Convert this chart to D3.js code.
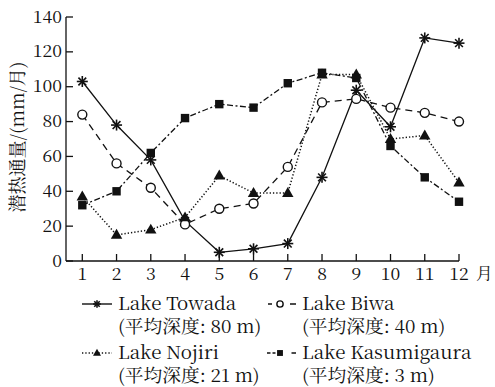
<!DOCTYPE html>
<html>
<head>
<meta charset="utf-8">
<script src="https://cdn.jsdelivr.net/npm/d3@7"></script>
<style>
  body { margin: 0; background: #fff; }
</style>
</head>
<body>
<svg id="chart"></svg>
<script>
const months = [1, 2, 3, 4, 5, 6, 7, 8, 9, 10, 11, 12];
const towada = [103, 78, 58, 23, 5, 7, 10, 48, 98, 77, 128, 125];
const biwa = [84, 56, 42, 21, 30, 33, 54, 91, 93, 88, 85, 80];
const nojiri = [37, 15, 18, 25, 49, 39, 39, 107, 107, 70, 72, 45];
const kasumigaura = [32, 40, 62, 82, 90, 88, 102, 108, 105, 66, 48, 34];
const yTicks = [0, 20, 40, 60, 80, 100, 120, 140];

const series = [
    {name: 'Lake Towada', depth: '(平均深度: 80 m)', values: towada, dash: null, marker: 'star',
     legendDash: null},
    {name: 'Lake Biwa', depth: '(平均深度: 40 m)', values: biwa, dash: '7,5', marker: 'circle',
     legendDash: '0,1,4,18,6'},
    {name: 'Lake Nojiri', depth: '(平均深度: 21 m)', values: nojiri, dash: '1.3,2', marker: 'triangle',
     legendDash: '1.3,2'},
    {name: 'Lake Kasumigaura', depth: '(平均深度: 3 m)', values: kasumigaura, dash: '6,2.5,2,2.5', marker: 'square',
     legendDash: '3.5,2,3,16,5'}
];

const FONT = '"Noto Serif CJK SC", "Liberation Serif"';

const width = 495, height = 387;
const svg = d3.select('#chart').attr('width', width).attr('height', height);

const xscale = d3.scaleLinear().domain([1, 12]).range([82.3, 459]);
const yscale = d3.scaleLinear().domain([0, 140]).range([261, 17]);
const x0 = 66;

// slightly stretched text helper
function label(g, x, y, str, size, anchor) {
    return g.append('text')
        .attr('transform', `translate(${x},${y}) scale(1.04,1)`)
        .attr('text-anchor', anchor || 'start')
        .style('font-family', FONT)
        .style('font-size', size + 'px')
        .attr('fill', '#111')
        .text(str);
}

// axes
const axes = svg.append('g').attr('stroke', '#111').attr('stroke-width', 1.3);
axes.append('line').attr('x1', x0).attr('x2', x0).attr('y1', yscale(140)).attr('y2', yscale(0));
axes.append('line').attr('x1', x0).attr('x2', xscale(12)).attr('y1', yscale(0)).attr('y2', yscale(0));
yTicks.forEach(t => {
    axes.append('line').attr('x1', x0).attr('x2', x0 + 7).attr('y1', yscale(t)).attr('y2', yscale(t));
    label(svg, 62, yscale(t) + 5.5, String(t), 17, 'end');
});
months.forEach(m => {
    axes.append('line').attr('x1', xscale(m)).attr('x2', xscale(m)).attr('y1', yscale(0)).attr('y2', yscale(0) - 7);
    label(svg, xscale(m), 280, String(m), 17, 'middle');
});
label(svg, 476, 279, '月', 16, 'start');

svg.append('text')
    .attr('transform', `translate(24, 137) rotate(-90)`)
    .attr('text-anchor', 'middle')
    .style('font-family', FONT)
    .style('font-size', '18px')
    .attr('fill', '#111')
    .text('潜热通量/(mm/月)');

// markers
function drawMarker(g, type, x, y, s) {
    if (type === 'star') {
        const r = 5.5 * s;
        [0, 45, 90, 135].forEach(a => {
            const rad = a * Math.PI / 180;
            g.append('line')
                .attr('x1', x - r * Math.cos(rad)).attr('y1', y - r * Math.sin(rad))
                .attr('x2', x + r * Math.cos(rad)).attr('y2', y + r * Math.sin(rad))
                .attr('stroke', '#111').attr('stroke-width', 1.6);
        });
    } else if (type === 'circle') {
        g.append('circle').attr('cx', x).attr('cy', y).attr('r', 4.5 * s)
            .attr('fill', '#fff').attr('stroke', '#111').attr('stroke-width', 1.4);
    } else if (type === 'triangle') {
        const r = 6 * s;
        g.append('path')
            .attr('d', `M${x},${y - r}L${x + r * 0.95},${y + r * 0.65}L${x - r * 0.95},${y + r * 0.65}Z`)
            .attr('fill', '#111');
    } else if (type === 'square') {
        const r = 4.2 * s;
        g.append('rect').attr('x', x - r).attr('y', y - r).attr('width', 2 * r).attr('height', 2 * r)
            .attr('fill', '#111');
    }
}

const line = d3.line().x((d, i) => xscale(months[i])).y(d => yscale(d));

series.forEach(s => {
    const g = svg.append('g');
    g.append('path')
        .attr('d', line(s.values))
        .attr('fill', 'none')
        .attr('stroke', '#111')
        .attr('stroke-width', s.marker === 'triangle' ? 1.5 : 1.3)
        .attr('stroke-dasharray', s.dash);
    s.values.forEach((v, i) => drawMarker(g, s.marker, xscale(months[i]), yscale(v), 1));
});

// legend
const legendPos = [
    {x: 82, y: 304}, {x: 267, y: 304},
    {x: 82, y: 353}, {x: 267, y: 353}
];
series.forEach((s, i) => {
    const p = legendPos[i];
    const g = svg.append('g');
    const lw = i % 2 === 0 ? 30 : 29;
    g.append('line')
        .attr('x1', p.x).attr('x2', p.x + lw).attr('y1', p.y).attr('y2', p.y)
        .attr('stroke', '#111').attr('stroke-width', 1.4)
        .attr('stroke-dasharray', s.legendDash);
    drawMarker(g, s.marker, p.x + (i % 2 === 0 ? 15 : 13), p.y, 0.7);
    const tx = i % 2 === 0 ? 118 : 302;
    label(svg, tx, p.y + 5.5, s.name, 18, 'start');
    label(svg, tx, p.y + 29, s.depth, 18, 'start');
});
</script>
</body>
</html>
